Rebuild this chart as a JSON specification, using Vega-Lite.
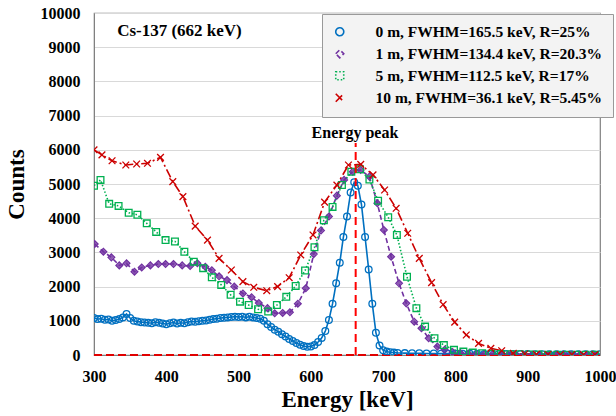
{
  "$schema": "https://vega.github.io/schema/vega-lite/v6.json",
  "width": 506,
  "height": 342,
  "autosize": {"type": "none"},
  "padding": {"left": 94, "top": 13, "right": 16, "bottom": 61},
  "background": "white",
  "config": {
    "view": {"stroke": "#808080", "strokeWidth": 1.2},
    "font": "Liberation Serif",
    "axis": {
      "labelFont": "Liberation Serif", "labelFontWeight": "bold", "labelFontSize": 16, "labelColor": "black",
      "titleFont": "Liberation Serif", "titleFontWeight": "bold", "titleFontSize": 23, "titleColor": "black",
      "domainColor": "#808080", "ticks": false, "labelOverlap": false, "format": "d"
    },
    "legend": {
      "labelFont": "Liberation Serif", "labelFontWeight": "bold", "labelFontSize": 15.5, "labelColor": "black", "labelLimit": 400
    }
  },
  "datasets": {
    "spec": [
      {"s":"0 m","e":300,"c":1080},{"s":"0 m","e":305,"c":1050},{"s":"0 m","e":310,"c":1060},{"s":"0 m","e":315,"c":1030},{"s":"0 m","e":320,"c":1040},{"s":"0 m","e":325,"c":1000},{"s":"0 m","e":330,"c":1020},{"s":"0 m","e":335,"c":1050},{"s":"0 m","e":340,"c":1100},{"s":"0 m","e":345,"c":1200},{"s":"0 m","e":350,"c":1080},{"s":"0 m","e":355,"c":1000},{"s":"0 m","e":360,"c":980},{"s":"0 m","e":365,"c":960},{"s":"0 m","e":370,"c":950},{"s":"0 m","e":375,"c":940},{"s":"0 m","e":380,"c":930},{"s":"0 m","e":385,"c":960},{"s":"0 m","e":390,"c":940},{"s":"0 m","e":395,"c":920},{"s":"0 m","e":400,"c":900},{"s":"0 m","e":405,"c":930},{"s":"0 m","e":410,"c":950},{"s":"0 m","e":415,"c":920},{"s":"0 m","e":420,"c":940},{"s":"0 m","e":425,"c":930},{"s":"0 m","e":430,"c":960},{"s":"0 m","e":435,"c":980},{"s":"0 m","e":440,"c":970},{"s":"0 m","e":445,"c":990},{"s":"0 m","e":450,"c":1000},{"s":"0 m","e":455,"c":1010},{"s":"0 m","e":460,"c":1030},{"s":"0 m","e":465,"c":1050},{"s":"0 m","e":470,"c":1060},{"s":"0 m","e":475,"c":1080},{"s":"0 m","e":480,"c":1090},{"s":"0 m","e":485,"c":1100},{"s":"0 m","e":490,"c":1110},{"s":"0 m","e":495,"c":1120},{"s":"0 m","e":500,"c":1110},{"s":"0 m","e":505,"c":1120},{"s":"0 m","e":510,"c":1100},{"s":"0 m","e":515,"c":1120},{"s":"0 m","e":520,"c":1100},{"s":"0 m","e":525,"c":1080},{"s":"0 m","e":530,"c":1060},{"s":"0 m","e":535,"c":1000},{"s":"0 m","e":540,"c":900},{"s":"0 m","e":545,"c":820},{"s":"0 m","e":550,"c":740},{"s":"0 m","e":555,"c":680},{"s":"0 m","e":560,"c":610},{"s":"0 m","e":565,"c":540},{"s":"0 m","e":570,"c":470},{"s":"0 m","e":575,"c":410},{"s":"0 m","e":580,"c":350},{"s":"0 m","e":585,"c":300},{"s":"0 m","e":590,"c":260},{"s":"0 m","e":595,"c":240},{"s":"0 m","e":600,"c":250},{"s":"0 m","e":605,"c":290},{"s":"0 m","e":610,"c":380},{"s":"0 m","e":615,"c":500},{"s":"0 m","e":620,"c":700},{"s":"0 m","e":625,"c":1025},{"s":"0 m","e":630,"c":1500},{"s":"0 m","e":635,"c":2100},{"s":"0 m","e":640,"c":2700},{"s":"0 m","e":645,"c":3450},{"s":"0 m","e":650,"c":4050},{"s":"0 m","e":655,"c":4750},{"s":"0 m","e":660,"c":5050},{"s":"0 m","e":665,"c":4950},{"s":"0 m","e":670,"c":4400},{"s":"0 m","e":675,"c":3450},{"s":"0 m","e":680,"c":2500},{"s":"0 m","e":685,"c":1500},{"s":"0 m","e":690,"c":650},{"s":"0 m","e":695,"c":280},{"s":"0 m","e":700,"c":140},{"s":"0 m","e":705,"c":100},{"s":"0 m","e":710,"c":80},{"s":"0 m","e":715,"c":70},{"s":"0 m","e":720,"c":60},{"s":"0 m","e":730,"c":55},{"s":"0 m","e":740,"c":50},{"s":"0 m","e":750,"c":50},{"s":"0 m","e":760,"c":45},{"s":"0 m","e":770,"c":45},{"s":"0 m","e":780,"c":40},{"s":"0 m","e":790,"c":40},{"s":"0 m","e":800,"c":40},{"s":"0 m","e":810,"c":35},{"s":"0 m","e":820,"c":35},{"s":"0 m","e":830,"c":35},{"s":"0 m","e":840,"c":30},{"s":"0 m","e":850,"c":30},{"s":"0 m","e":860,"c":30},{"s":"0 m","e":870,"c":30},{"s":"0 m","e":880,"c":30},{"s":"0 m","e":890,"c":30},{"s":"0 m","e":900,"c":30},{"s":"0 m","e":910,"c":25},{"s":"0 m","e":920,"c":25},{"s":"0 m","e":930,"c":25},{"s":"0 m","e":940,"c":25},{"s":"0 m","e":950,"c":25},{"s":"0 m","e":960,"c":25},{"s":"0 m","e":970,"c":25},{"s":"0 m","e":980,"c":25},{"s":"0 m","e":990,"c":25},{"s":"0 m","e":1000,"c":25},
      {"s":"1 m","e":301,"c":3245},{"s":"1 m","e":313,"c":3020},{"s":"1 m","e":324,"c":2855},{"s":"1 m","e":335,"c":2620},{"s":"1 m","e":345,"c":2680},{"s":"1 m","e":356,"c":2435},{"s":"1 m","e":366,"c":2560},{"s":"1 m","e":378,"c":2620},{"s":"1 m","e":389,"c":2660},{"s":"1 m","e":399,"c":2660},{"s":"1 m","e":410,"c":2660},{"s":"1 m","e":422,"c":2620},{"s":"1 m","e":433,"c":2600},{"s":"1 m","e":443,"c":2680},{"s":"1 m","e":454,"c":2580},{"s":"1 m","e":463,"c":2480},{"s":"1 m","e":473,"c":2300},{"s":"1 m","e":484,"c":2190},{"s":"1 m","e":494,"c":2000},{"s":"1 m","e":506,"c":1800},{"s":"1 m","e":518,"c":1690},{"s":"1 m","e":528,"c":1520},{"s":"1 m","e":540,"c":1370},{"s":"1 m","e":550,"c":1220},{"s":"1 m","e":561,"c":1230},{"s":"1 m","e":571,"c":1250},{"s":"1 m","e":582,"c":1500},{"s":"1 m","e":593,"c":1950},{"s":"1 m","e":604,"c":2950},{"s":"1 m","e":614,"c":3640},{"s":"1 m","e":625,"c":4050},{"s":"1 m","e":636,"c":4660},{"s":"1 m","e":646,"c":5120},{"s":"1 m","e":658,"c":5360},{"s":"1 m","e":669,"c":5410},{"s":"1 m","e":681,"c":5215},{"s":"1 m","e":692,"c":4435},{"s":"1 m","e":701,"c":3655},{"s":"1 m","e":711,"c":2875},{"s":"1 m","e":722,"c":2095},{"s":"1 m","e":732,"c":1510},{"s":"1 m","e":743,"c":975},{"s":"1 m","e":753,"c":780},{"s":"1 m","e":763,"c":490},{"s":"1 m","e":775,"c":245},{"s":"1 m","e":785,"c":150},{"s":"1 m","e":796,"c":90},{"s":"1 m","e":807,"c":60},{"s":"1 m","e":818,"c":40},{"s":"1 m","e":829,"c":30},{"s":"1 m","e":840,"c":20},{"s":"1 m","e":851,"c":15},{"s":"1 m","e":862,"c":10},{"s":"1 m","e":873,"c":10},{"s":"1 m","e":884,"c":10},{"s":"1 m","e":895,"c":10},{"s":"1 m","e":906,"c":10},{"s":"1 m","e":917,"c":10},{"s":"1 m","e":928,"c":10},{"s":"1 m","e":939,"c":10},{"s":"1 m","e":950,"c":10},{"s":"1 m","e":961,"c":10},{"s":"1 m","e":972,"c":10},{"s":"1 m","e":983,"c":10},{"s":"1 m","e":994,"c":10},
      {"s":"5 m","e":300,"c":4950},{"s":"5 m","e":309,"c":5120},{"s":"5 m","e":321,"c":4420},{"s":"5 m","e":334,"c":4360},{"s":"5 m","e":348,"c":4160},{"s":"5 m","e":360,"c":4100},{"s":"5 m","e":373,"c":3850},{"s":"5 m","e":386,"c":3600},{"s":"5 m","e":399,"c":3360},{"s":"5 m","e":412,"c":3320},{"s":"5 m","e":425,"c":3020},{"s":"5 m","e":438,"c":2730},{"s":"5 m","e":451,"c":2540},{"s":"5 m","e":463,"c":2270},{"s":"5 m","e":476,"c":2050},{"s":"5 m","e":489,"c":1760},{"s":"5 m","e":502,"c":1560},{"s":"5 m","e":514,"c":1460},{"s":"5 m","e":527,"c":1340},{"s":"5 m","e":541,"c":1270},{"s":"5 m","e":553,"c":1460},{"s":"5 m","e":566,"c":1700},{"s":"5 m","e":579,"c":2020},{"s":"5 m","e":592,"c":2470},{"s":"5 m","e":605,"c":3150},{"s":"5 m","e":618,"c":3940},{"s":"5 m","e":630,"c":4330},{"s":"5 m","e":643,"c":4970},{"s":"5 m","e":656,"c":5360},{"s":"5 m","e":668,"c":5430},{"s":"5 m","e":681,"c":5130},{"s":"5 m","e":693,"c":4510},{"s":"5 m","e":707,"c":4030},{"s":"5 m","e":719,"c":3510},{"s":"5 m","e":733,"c":2290},{"s":"5 m","e":746,"c":1370},{"s":"5 m","e":758,"c":830},{"s":"5 m","e":771,"c":490},{"s":"5 m","e":784,"c":290},{"s":"5 m","e":798,"c":150},{"s":"5 m","e":811,"c":100},{"s":"5 m","e":824,"c":70},{"s":"5 m","e":837,"c":50},{"s":"5 m","e":850,"c":40},{"s":"5 m","e":863,"c":30},{"s":"5 m","e":876,"c":25},{"s":"5 m","e":889,"c":20},{"s":"5 m","e":902,"c":15},{"s":"5 m","e":915,"c":15},{"s":"5 m","e":928,"c":10},{"s":"5 m","e":941,"c":10},{"s":"5 m","e":954,"c":10},{"s":"5 m","e":967,"c":10},{"s":"5 m","e":980,"c":10},{"s":"5 m","e":993,"c":10},
      {"s":"10 m","e":300,"c":6000},{"s":"10 m","e":311,"c":5850},{"s":"10 m","e":325,"c":5680},{"s":"10 m","e":344,"c":5555},{"s":"10 m","e":359,"c":5585},{"s":"10 m","e":374,"c":5605},{"s":"10 m","e":392,"c":5780},{"s":"10 m","e":409,"c":5070},{"s":"10 m","e":423,"c":4630},{"s":"10 m","e":440,"c":3770},{"s":"10 m","e":457,"c":3360},{"s":"10 m","e":473,"c":2825},{"s":"10 m","e":490,"c":2485},{"s":"10 m","e":506,"c":2145},{"s":"10 m","e":521,"c":1980},{"s":"10 m","e":539,"c":1880},{"s":"10 m","e":554,"c":2000},{"s":"10 m","e":570,"c":2260},{"s":"10 m","e":586,"c":2925},{"s":"10 m","e":603,"c":3510},{"s":"10 m","e":619,"c":4470},{"s":"10 m","e":636,"c":4970},{"s":"10 m","e":652,"c":5555},{"s":"10 m","e":669,"c":5575},{"s":"10 m","e":686,"c":5265},{"s":"10 m","e":702,"c":4825},{"s":"10 m","e":718,"c":4290},{"s":"10 m","e":734,"c":3560},{"s":"10 m","e":750,"c":2825},{"s":"10 m","e":767,"c":2115},{"s":"10 m","e":783,"c":1475},{"s":"10 m","e":799,"c":960},{"s":"10 m","e":815,"c":585},{"s":"10 m","e":832,"c":340},{"s":"10 m","e":849,"c":195},{"s":"10 m","e":864,"c":125},{"s":"10 m","e":880,"c":50},{"s":"10 m","e":896,"c":30},{"s":"10 m","e":912,"c":20},{"s":"10 m","e":928,"c":15},{"s":"10 m","e":945,"c":10},{"s":"10 m","e":961,"c":10},{"s":"10 m","e":977,"c":10},{"s":"10 m","e":993,"c":10}
    ]
  },
  "encoding": {
    "x": {"field": "e", "type": "quantitative", "scale": {"domain": [300, 1000], "nice": false, "zero": false},
      "axis": {"title": "Energy [keV]", "values": [300,400,500,600,700,800,900,1000], "grid": false, "labelPadding": 13, "titlePadding": 4, "labelFlush": false}},
    "y": {"field": "c", "type": "quantitative", "scale": {"domain": [0, 10000], "nice": false},
      "axis": {"title": "Counts", "values": [0,1000,2000,3000,4000,5000,6000,7000,8000,9000,10000], "tickCount": 11, "labelOverlap": false,
        "grid": true, "gridColor": "#d9d9d9", "gridWidth": 1, "labelPadding": 14, "titlePadding": 12}}
  },
  "layer": [
    {
      "data": {"values": [{"e": 300, "e2": 1000, "c": 0}]},
      "mark": {"type": "rule", "color": "#e00000", "strokeWidth": 2, "strokeDash": [8, 4]},
      "encoding": {"x2": {"field": "e2"}}
    },
    {
      "data": {"name": "spec"},
      "mark": {"type": "line", "strokeWidth": 1.6, "clip": true},
      "encoding": {
        "color": {"field": "s", "type": "nominal",
          "scale": {"domain": ["0 m", "1 m", "5 m", "10 m"], "range": ["#0070c0", "#7030a0", "#00b050", "#cc0000"]},
          "legend": {
            "title": null, "orient": "none", "legendX": 228, "legendY": 1,
            "fillColor": "#f3f3f3", "strokeColor": "#999999", "padding": 10, "rowPadding": 5,
            "symbolSize": 64, "symbolStrokeWidth": 1.6, "labelOffset": 28,
            "labelExpr": "datum.value === '0 m' ? '0 m, FWHM=165.5 keV, R=25%' : datum.value === '1 m' ? '1 m, FWHM=134.4 keV, R=20.3%' : datum.value === '5 m' ? '5 m, FWHM=112.5 keV, R=17%' : '10 m, FWHM=36.1 keV, R=5.45%'"
          }},
        "strokeDash": {"field": "s", "type": "nominal", "legend": null,
          "scale": {"domain": ["0 m", "1 m", "5 m", "10 m"], "range": [[1, 0], [5, 3], [1.5, 2], [9, 3, 2, 3]]}}
      }
    },
    {
      "data": {"name": "spec"},
      "transform": [{"filter": "datum.s === '1 m'"}],
      "mark": {"type": "point", "shape": "diamond", "filled": true, "color": "#7030a0", "size": 30, "opacity": 0.8, "clip": true},
      "encoding": {}
    },
    {
      "data": {"name": "spec"},
      "mark": {"type": "point", "filled": false, "strokeWidth": 1.3, "size": 45, "opacity": 1, "clip": true},
      "encoding": {
        "color": {"field": "s", "type": "nominal",
          "legend": {
            "title": null, "orient": "none", "legendX": 228, "legendY": 1,
            "fillColor": "#f3f3f3", "strokeColor": "#999999", "padding": 10, "rowPadding": 5,
            "symbolSize": 64, "symbolStrokeWidth": 1.6, "labelOffset": 28,
            "labelExpr": "datum.value === '0 m' ? '0 m, FWHM=165.5 keV, R=25%' : datum.value === '1 m' ? '1 m, FWHM=134.4 keV, R=20.3%' : datum.value === '5 m' ? '5 m, FWHM=112.5 keV, R=17%' : '10 m, FWHM=36.1 keV, R=5.45%'"
          }},
        "shape": {"field": "s", "type": "nominal", "legend": null,
          "scale": {"domain": ["0 m", "1 m", "5 m", "10 m"], "range": ["circle", "diamond", "square", "M-1,-1L1,1M-1,1L1,-1"]}}
      }
    },
    {
      "data": {"values": [{"e": 662, "c": 0, "c1": 6200}]},
      "mark": {"type": "rule", "color": "#ff0000", "strokeWidth": 2, "strokeDash": [8, 5]},
      "encoding": {"y2": {"field": "c1"}}
    },
    {
      "data": {"values": [{"e": 332, "c": 9470, "t": "Cs-137 (662 keV)"}]},
      "mark": {"type": "text", "font": "Liberation Serif", "fontWeight": "bold", "fontSize": 17, "color": "black", "baseline": "middle", "align": "left"},
      "encoding": {"text": {"field": "t"}}
    },
    {
      "data": {"values": [{"e": 661, "c": 6500, "t": "Energy peak"}]},
      "mark": {"type": "text", "font": "Liberation Serif", "fontWeight": "bold", "fontSize": 16, "color": "black", "baseline": "middle", "align": "center"},
      "encoding": {"text": {"field": "t"}}
    }
  ]
}
